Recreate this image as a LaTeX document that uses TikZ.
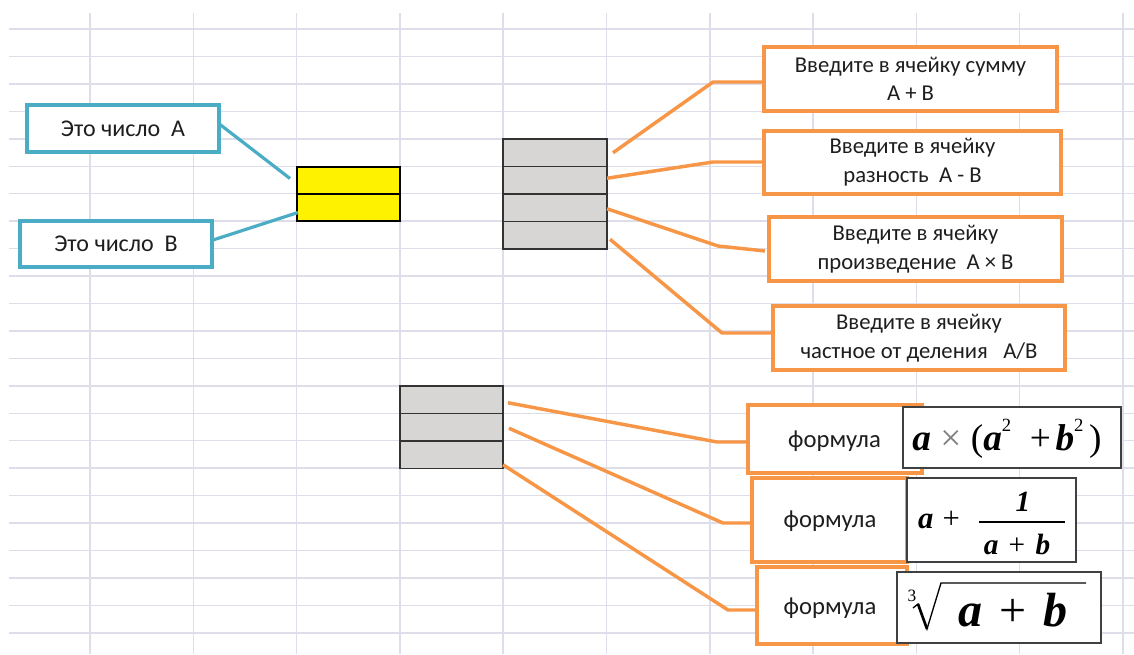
\documentclass[tikz,border=0pt]{standalone}
\usepackage{fontspec}
\setmainfont{Carlito}
\newfontfamily\tnr{Liberation Serif}
\usetikzlibrary{calc}

\definecolor{gridc}{HTML}{DEDEEB}
\definecolor{accblue}{HTML}{4BACC6}
\definecolor{accorange}{HTML}{F79646}
\definecolor{cellgray}{HTML}{D8D5D5}
\definecolor{celledge}{HTML}{333333}
\definecolor{fedge}{HTML}{404040}
\definecolor{txt}{HTML}{1E1E1E}

% upright, regular operator inside a bold italic formula
\newcommand{\opr}[1]{{\mdseries\upshape #1}}

\begin{document}
\begin{tikzpicture}[x=0.75pt,y=-0.75pt,
  every node/.style={inner sep=0pt, outer sep=0pt, text=txt},
  bluebox/.style={draw=accblue, line width=2.4pt, fill=white, font=\fontsize{18}{21}\selectfont},
  orangebox/.style={draw=accorange, line width=2.6pt, fill=white, align=center, font=\fontsize{17}{21.5}\selectfont},
  formbox/.style={draw=fedge, line width=1pt, fill=white},
  formtext/.style={text=black, anchor=base},
  labeltext/.style={font=\fontsize{18.5}{21}\selectfont},
  graycell/.style={draw=celledge, line width=1.4pt, fill=cellgray, minimum height=20.6pt},
  ycell/.style={draw=black, line width=1pt, fill=yellow, minimum width=77.25pt, minimum height=20.25pt},
  blueline/.style={draw=accblue, line width=2.4pt},
  orangeline/.style={draw=accorange, line width=2.6pt, line join=round},
  gridline/.style={draw=gridc, line width=1.1pt},
]
\useasboundingbox (0,0) rectangle (1134,654);

% worksheet grid
\foreach \k in {0,...,22}
  \draw[gridline] (9,{29+27.45*\k}) -- (1134,{29+27.45*\k});
\foreach \k in {0,...,10}
  \draw[gridline] ({90+103.3*\k},13) -- ({90+103.3*\k},654);

% input cells
\node[ycell] (ya) at (348.5,180.5) {};
\node[ycell] (yb) at (348.5,207.5) {};

% result cells for the four operations
\node[graycell, minimum width=78pt] (g1) at (555,152.75) {};
\node[graycell, minimum width=78pt] (g2) at (555,180.25) {};
\node[graycell, minimum width=78pt] (g3) at (555,207.75) {};
\node[graycell, minimum width=78pt] (g4) at (555,235.25) {};

% result cells for the formulas
\node[graycell, minimum width=77.25pt] (h1) at (451.5,399.75) {};
\node[graycell, minimum width=77.25pt] (h2) at (451.5,427.25) {};
\node[graycell, minimum width=77.25pt] (h3) at (451.5,454.75) {};

% callouts for the inputs
\node[bluebox, minimum width=144pt, minimum height=35.25pt] (a) at (123,128.5) {Это число\ \ А};
\node[bluebox, minimum width=144pt, minimum height=34.5pt] (b) at (116,244) {Это число\ \ В};

\draw[blueline] ($(a.east)+(1,-4)$) -- ($(ya.west)+(-7,-2)$);
\draw[blueline] ($(b.east)+(1,-4)$) -- ($(yb.west)+(1,5)$);

% callouts for the operations
\node[orangebox, minimum width=219.75pt, minimum height=48pt] (o1) at (910.5,79) {Введите в ячейку сумму\\А + В};
\node[orangebox, minimum width=222.75pt, minimum height=47.25pt] (o2) at (912.5,162.5) {Введите в ячейку\\разность\ \ А - В};
\node[orangebox, minimum width=219.75pt, minimum height=48pt] (o3) at (915.5,249) {Введите в ячейку\\произведение\ \ А × В};
\node[orangebox, minimum width=219pt, minimum height=48pt] (o4) at (919,338) {Введите в ячейку\\частное от деления\ \ \ А/В};

\coordinate (k1) at (713,82);
\coordinate (k2) at (713,162);
\coordinate (k3) at (718,246);
\coordinate (k4) at (722,333);
\draw[orangeline] ($(g1.east)+(6,0)$) -- (k1) -- (k1 -| o1.west);
\draw[orangeline] ($(g2.east)+(0,-2)$) -- (k2) -- (k2 -| o2.west);
\draw[orangeline] ($(g3.east)+(0,1)$) -- (k3) -- ($(o3.west)+(-4,2)$);
\draw[orangeline] ($(g4.east)+(3,4)$) -- (k4) -- (k4 -| o4.west);

% callouts for the formulas
\node[orangebox, minimum width=130.5pt, minimum height=51pt] (f1) at (835,439) {};
\node[orangebox, minimum width=116.25pt, minimum height=63pt] (f2) at (829.5,520) {};
\node[orangebox, minimum width=112.5pt, minimum height=57.75pt] (f3) at (832,605.5) {};
\node[labeltext] (t1) at (834.5,441) {формула};
\node[labeltext] (t2) at (830,521) {формула};
\node[labeltext] (t3) at (830,608) {формула};

\node[formbox, minimum width=163.5pt, minimum height=45.75pt] (e1) at (1012,437.5) {};
\node[formbox, minimum width=126.75pt, minimum height=63pt] (e2) at (991.5,520) {};
\node[formbox, minimum width=153pt, minimum height=53.25pt] (e3) at (999,607.5) {};

% a x (a^2 + b^2)
\node[formtext, font=\tnr\fontsize{28}{30}\selectfont\bfseries\itshape] (x1) at (1007,450)
  {a\hspace{0.25em}\opr{\textcolor{gray}{×}}\hspace{0.25em}\opr{(}a\raisebox{0.5em}{\opr{\fontsize{14}{14}\selectfont 2}}\hspace{0.5em}\opr{+}\hspace{0.12em}b\raisebox{0.5em}{\opr{\fontsize{14}{14}\selectfont 2}}\hspace{0.15em}\opr{)}};

% a + 1/(a + b)
\node[formtext, font=\tnr\fontsize{23}{26}\selectfont\bfseries\itshape] (x2a) at (939,528) {a\hspace{0.3em}\opr{+}};
\node[formtext, font=\tnr\fontsize{22}{24}\selectfont\bfseries\itshape] (x2n) at (1023,511) {1};
\node[formtext, font=\tnr\fontsize{22}{24}\selectfont\bfseries\itshape] (x2d) at (1017,554) {a\hspace{0.35em}\opr{+}\hspace{0.35em}b};
\coordinate (bar1) at (979,522);
\coordinate (bar2) at (1065,522);
\draw[black, line width=1pt] (bar1) -- (bar2);

% cube root of (a + b)
\node[formtext, font=\tnr\fontsize{36}{40}\selectfont\bfseries\itshape] (x3) at (1013,626) {a\hspace{0.35em}\opr{+}\hspace{0.35em}b};
\node[formtext, font=\tnr\fontsize{13}{14}\selectfont] (x3i) at (912,601) {3};
\coordinate (r1) at (913,608);
\coordinate (r2) at (918,604);
\coordinate (r3) at (927,629);
\coordinate (r4) at (941,583);
\coordinate (r5) at (1086,583);
\draw[black, line width=1pt, line join=miter] (r1) -- (r2) -- (r3) -- (r4) -- (r5);
\draw[black, line width=2pt] (r2) -- (r3);

\coordinate (m1) at (717,442);
\coordinate (m2) at (723,523);
\coordinate (m3) at (728,610);
\draw[orangeline] ($(h1.east)+(5,3)$) -- (m1) -- (m1 -| f1.west);
\draw[orangeline] ($(h2.east)+(6,1)$) -- (m2) -- (m2 -| f2.west);
\draw[orangeline] ($(h3.east)+(0,10)$) -- (m3) -- (m3 -| f3.west);
\end{tikzpicture}
\end{document}
